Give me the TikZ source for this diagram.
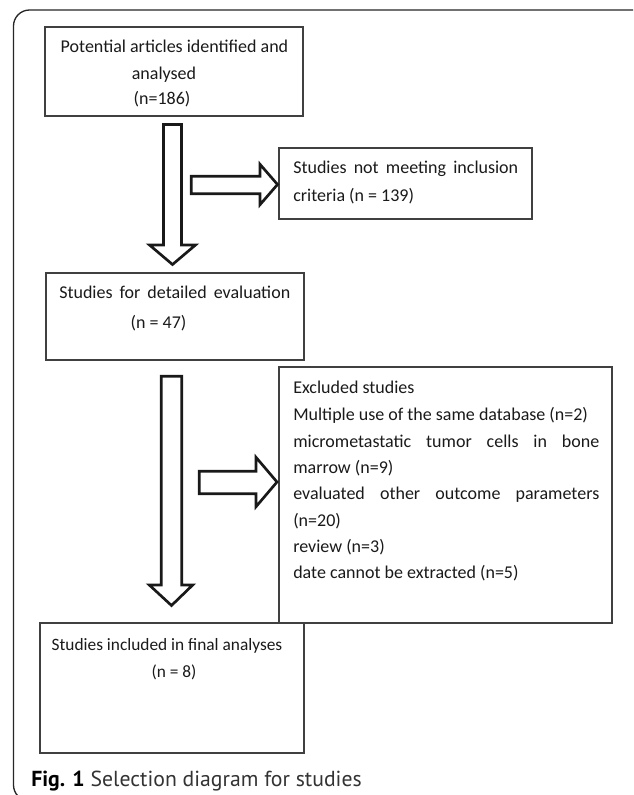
\documentclass[tikz,border=0pt]{standalone}
\usepackage{fontspec}
\setmainfont{Carlito}
\newfontfamily\capfont{PT Sans}
\usetikzlibrary{fit}
\newlength\pxu
\setlength\pxu{0.75pt}
\definecolor{boxline}{HTML}{404040}
\definecolor{txtcol}{HTML}{1A1A1A}
\definecolor{capgray}{HTML}{333333}
\tikzset{
  boxst/.style={draw=boxline, line width=0.8pt, inner sep=0pt, fill=none},
  txt/.style={inner sep=0pt, text=txtcol, font=\fontsize{13.5}{19.8}\selectfont},
  smalltxt/.style={inner sep=0pt, text=txtcol, font=\fontsize{13}{19.8}\selectfont},
  blockarrow/.style={draw=black!90, line width=2pt, fill=white, line join=miter},
  frame/.style={draw=black!85, line width=1pt}
}
\begin{document}
\begin{tikzpicture}[x=0.75pt, y=-0.75pt]
\useasboundingbox (0,0) rectangle (633,795);
\clip (0,0) rectangle (633,795);
\fill[white] (0,0) rectangle (633,795);
% outer frame
\draw[frame, rounded corners=12] (660,10) -| (13.5,801) -- (660,801);

% boxes
\node[boxst, fit={(45,27)(303,116)}] (b1) {};
\node[boxst, fit={(279,148)(532,219)}] (b2) {};
\node[boxst, fit={(46,273)(304,360)}] (b3) {};
\node[boxst, fit={(279,367)(612,623)}] (b4) {};
\node[boxst, fit={(40,623)(304,753)}] (b5) {};

% box 1 text
\node[txt, anchor=base] (t1a) at (174.5,53) {Potential articles identified and};
\node[txt, anchor=base] (t1b) at (164,80) {analysed};
\node[txt, anchor=base] (t1c) at (162,105) {(n=186)};

% box 2 text
\node[txt, anchor=base west] (t2a) at (293,173) {\makebox[225\pxu][s]{Studies not meeting inclusion}};
\node[txt, anchor=base west] (t2b) at (293,201) {criteria (n = 139)};

% box 3 text
\node[txt, anchor=base west] (t3a) at (59,298) {\makebox[231\pxu][s]{Studies for detailed evaluation}};
\node[txt, anchor=base] (t3b) at (158.5,328) {(n = 47)};

% box 4 text
\node[txt, anchor=base west] (t4a) at (293,393) {Excluded studies};
\node[txt, anchor=base west] (t4b) at (293,420) {Multiple use of the same database (n=2)};
\node[txt, anchor=base west] (t4c) at (293,447) {\makebox[306\pxu][s]{micrometastatic tumor cells in bone}};
\node[txt, anchor=base west] (t4d) at (293,473) {marrow (n=9)};
\node[txt, anchor=base west] (t4e) at (293,499) {\makebox[306\pxu][s]{evaluated other outcome parameters}};
\node[txt, anchor=base west] (t4f) at (293,526) {(n=20)};
\node[txt, anchor=base west] (t4g) at (293,552) {review (n=3)};
\node[txt, anchor=base west] (t4h) at (293,578) {date cannot be extracted (n=5)};

% box 5 text
\node[smalltxt, anchor=base] (t5a) at (167,650) {Studies included in final analyses};
\node[smalltxt, anchor=base] (t5b) at (174,677) {(n = 8)};

% block arrows
\draw[blockarrow] (163.5,124.5) -- (181.5,124.5) -- (181.5,245) -- (195.5,245) -- (172.5,264.5)
  -- (149.5,245) -- (163.5,245) -- cycle;
\draw[blockarrow] (191.3,176.3) -- (260,176.3) -- (260,164.3) -- (277.5,184.5) -- (260,204.7)
  -- (260,193.7) -- (191.3,193.7) -- cycle;
\draw[blockarrow] (161.3,376.3) -- (181.7,376.3) -- (181.7,585) -- (192.7,585) -- (171.5,605.5)
  -- (149.3,585) -- (161.3,585) -- cycle;
\draw[blockarrow] (199.3,471.3) -- (256,471.3) -- (256,457.3) -- (277,482) -- (256,506.7)
  -- (256,493.7) -- (199.3,493.7) -- cycle;

% caption
\node[inner sep=0pt, anchor=base west, text=capgray, font=\capfont\fontsize{16.3}{19}\selectfont] (cap) at (31,786)
  {\textcolor{black}{\bfseries Fig. 1} Selection diagram for studies};
\end{tikzpicture}
\end{document}
